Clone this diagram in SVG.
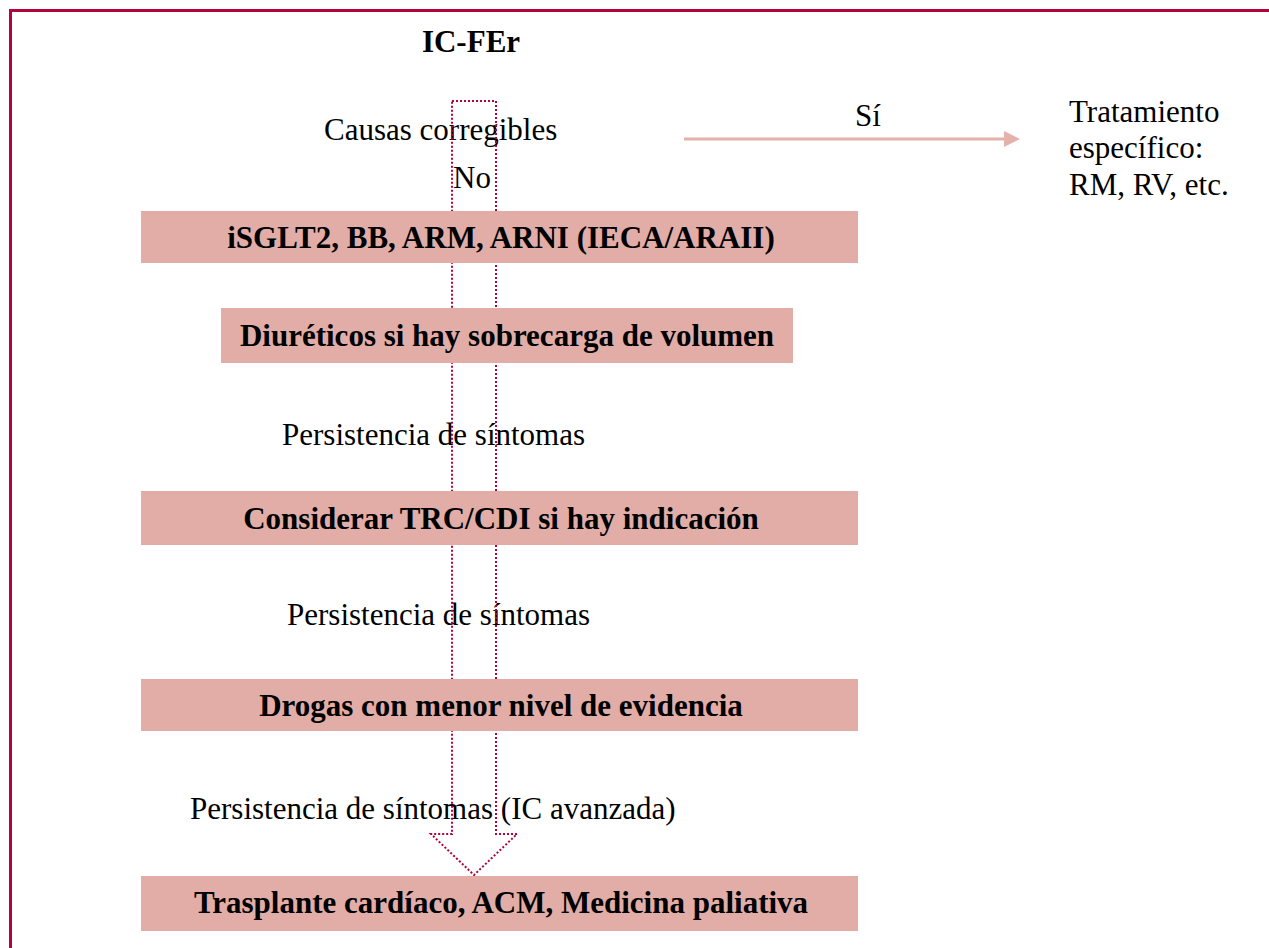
<svg xmlns="http://www.w3.org/2000/svg" width="1269" height="948" viewBox="0 0 1269 948">
<style>
.box{fill:#E2ADA7;stroke:none}
.bt{font-family:"Liberation Serif","Times New Roman",serif;font-size:31px;font-weight:bold;fill:#000;text-anchor:middle}
.t{font-family:"Liberation Serif","Times New Roman",serif;font-size:31px;fill:#000}
.frame{fill:none;stroke:#B2033C;stroke-width:3}
.big{fill:none;stroke:#B0033A;stroke-width:2;stroke-dasharray:2 2}
.si{fill:none;stroke:#E4B1AB;stroke-width:3}
.sihead{fill:#E4B1AB;stroke:none}
</style>
<rect width="1269" height="948" fill="#fff"/>
<rect class="frame" x="10.5" y="10.5" width="1300" height="1000"/>
<g id="title"><text class="bt" x="471" y="52">IC-FEr</text></g>
<g id="label-causas"><text class="t" x="324" y="140">Causas corregibles</text></g>
<g id="label-si"><text class="t" x="855" y="126">Sí</text></g>
<g id="label-no"><text class="t" x="453" y="188">No</text></g>
<g id="tratamiento"><text class="t" x="1069" y="122">Tratamiento</text><text class="t" x="1069" y="158">específico:</text><text class="t" x="1069" y="195">RM, RV, etc.</text></g>
<g id="label-p1"><text class="t" x="282" y="445">Persistencia de síntomas</text></g>
<g id="label-p2"><text class="t" x="287" y="625">Persistencia de síntomas</text></g>
<g id="label-p3"><text class="t" x="190" y="819">Persistencia de síntomas (IC avanzada)</text></g>
<g id="connectors">
<polygon id="big-arrow" class="big" points="452,101 496,101 496,834 517,834 474,875 431,834 452,834"/>
<line class="si" x1="684" y1="139" x2="1006" y2="139"/>
<polygon class="sihead" points="1004,131 1020,139 1004,147"/>
</g>
<g id="box1"><rect class="box" x="141" y="211" width="717" height="52"/><text class="bt" x="501" y="248">iSGLT2, BB, ARM, ARNI (IECA/ARAII)</text></g>
<g id="box2"><rect class="box" x="221" y="308" width="572" height="55"/><text class="bt" x="507" y="346">Diuréticos si hay sobrecarga de volumen</text></g>
<g id="box3"><rect class="box" x="141" y="491" width="717" height="54"/><text class="bt" x="501" y="529">Considerar TRC/CDI si hay indicación</text></g>
<g id="box4"><rect class="box" x="141" y="679" width="717" height="52"/><text class="bt" x="501" y="716">Drogas con menor nivel de evidencia</text></g>
<g id="box5"><rect class="box" x="141" y="876" width="717" height="55"/><text class="bt" x="501" y="913">Trasplante cardíaco, ACM, Medicina paliativa</text></g>
</svg>
